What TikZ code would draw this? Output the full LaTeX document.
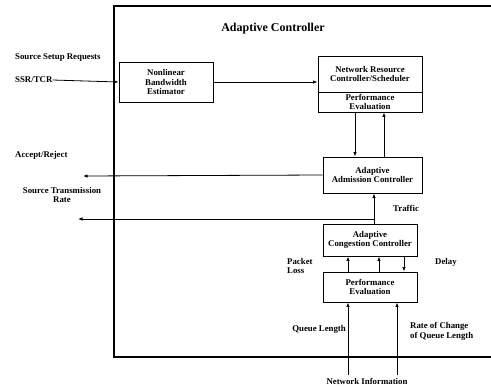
\documentclass[tikz,border=0pt]{standalone}
\usepackage{fontspec}
\setmainfont{Liberation Serif}
\usetikzlibrary{arrows.meta}
\newcommand\lblfont{\fontsize{8.8}{9.8}\selectfont\bfseries}
\newcommand\titlefont{\fontsize{12}{13}\selectfont\bfseries}
\begin{document}
\begin{tikzpicture}[x=1pt,y=-1pt,
  box/.style={draw, line width=0.9pt, font=\lblfont, align=center, inner sep=0.5pt},
  lbl/.style={font=\lblfont, align=center, inner sep=0pt},
  conn/.style={line width=0.8pt, -{Latex[length=4.5pt,width=3.5pt]}},
  frame/.style={line width=1.3pt}]
\useasboundingbox (0,0) rectangle (491,389);
% frame
\coordinate (ftr) at (491,6);
\coordinate (ftl) at (114,6);
\coordinate (fbl) at (114,357);
\coordinate (fbr) at (491,357);
\draw[frame] (ftr) -- (ftl) -- (fbl) -- (fbr);
% title
\node[font=\titlefont] (title) at (273,29) {Adaptive Controller};
% boxes
\node[box, minimum width=94, minimum height=40] (nbe) at (166,82) {Nonlinear\\Bandwidth\\Estimator};
\node[box, minimum width=104, minimum height=36] (nrcU) at (370,74) {Network Resource\\Controller/Scheduler};
\node[box, minimum width=104, minimum height=20] (nrcL) at (370,102) {Performance\\Evaluation};
\node[box, minimum width=99, minimum height=36] (aac) at (372.5,175) {Adaptive\\Admission Controller};
\node[box, minimum width=94, minimum height=32] (acc) at (370,240) {Adaptive\\Congestion Controller};
\node[box, minimum width=94, minimum height=30] (pe) at (370,287) {Performance\\Evaluation};
% labels
\node[lbl, anchor=west] (ssrq) at (15,58) {Source Setup Requests};
\node[lbl, anchor=west] (ssr) at (15,80) {SSR/TCR};
\node[lbl, anchor=west] (acrej) at (15,155) {Accept/Reject};
\node[lbl] (str) at (62,195) {Source Transmission\\Rate};
\node[lbl, anchor=west] (traffic) at (393,208) {Traffic};
\node[lbl, anchor=west, align=left] (ploss) at (287,266) {Packet\\Loss};
\node[lbl, anchor=west] (delay) at (435,262) {Delay};
\node[lbl, anchor=east] (qlen) at (346,329) {Queue Length};
\node[lbl, anchor=west, align=left] (rcql) at (410,331) {Rate of Change\\of Queue Length};
\node[lbl] (netinfo) at (367,381) {Network Information};
% coordinates
\coordinate (ar) at (83,176);
\coordinate (tr) at (78,219);
\coordinate (jn) at (374,219);
\coordinate (ni1) at (348,375);
\coordinate (ni2) at (397,375);
% connectors
\draw[conn] (ssr.east) -- (nbe.west);
\draw[conn] (nbe.east) -- (nbe.east -| nrcU.west);
\draw[conn] (nrcL.south -| 355,0) -- (aac.north -| 355,0);
\draw[conn] (aac.north -| 384,0) -- (nrcL.south -| 384,0);
\draw[conn] (aac.west) -- (ar);
\draw[conn] (acc.north -| jn) -- (aac.south -| jn);
\draw[conn] (jn) -- (tr);
\draw[conn] (pe.north -| 348,0) -- (acc.south -| 348,0);
\draw[conn] (pe.north -| 379,0) -- (acc.south -| 379,0);
\draw[conn] (acc.south -| 404,0) -- (pe.north -| 404,0);
\draw[conn] (ni1) -- (pe.south -| ni1);
\draw[conn] (ni2) -- (pe.south -| ni2);
\end{tikzpicture}
\end{document}
